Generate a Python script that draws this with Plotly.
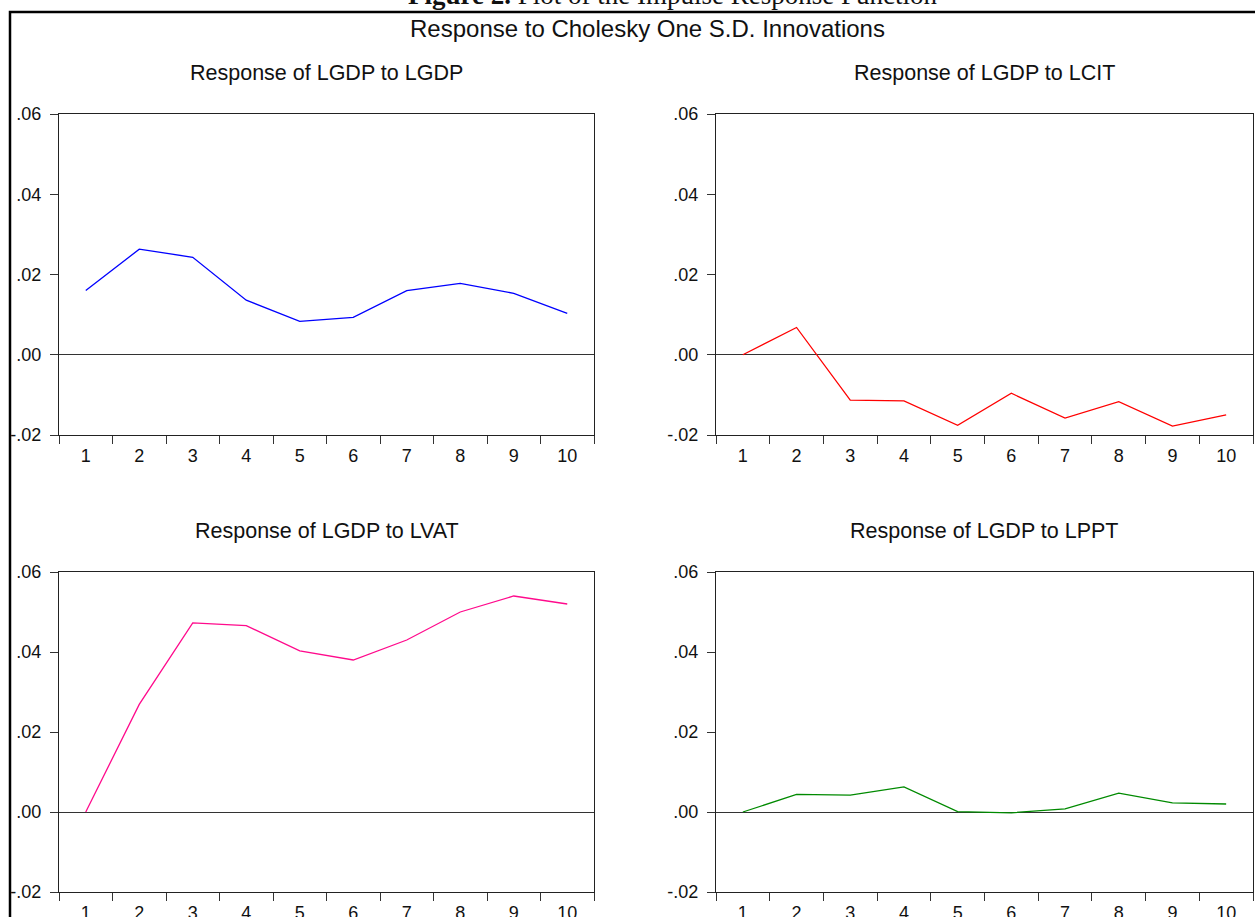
import plotly.graph_objects as go

periods = ["1", "2", "3", "4", "5", "6", "7", "8", "9", "10"]
lgdp_to_lgdp = [0.0160, 0.0263, 0.0243, 0.0136, 0.0083, 0.0093, 0.0160, 0.0178, 0.0153, 0.0103]
lgdp_to_lcit = [0.0000, 0.0068, -0.0113, -0.0115, -0.0176, -0.0096, -0.0158, -0.0117, -0.0178, -0.0150]
lgdp_to_lvat = [0.0000, 0.0269, 0.0473, 0.0466, 0.0403, 0.0380, 0.0430, 0.0500, 0.0540, 0.0520]
lgdp_to_lppt = [0.0000, 0.0044, 0.0042, 0.0063, 0.0001, -0.0002, 0.0008, 0.0047, 0.0023, 0.0020]

panel_titles = ["Response of LGDP to LGDP", "Response of LGDP to LCIT",
                "Response of LGDP to LVAT", "Response of LGDP to LPPT"]
series = [lgdp_to_lgdp, lgdp_to_lcit, lgdp_to_lvat, lgdp_to_lppt]
colors = ["#0000ff", "#ff0000", "#ff0a8c", "#008a00"]

ytick_vals = [-0.02, 0.00, 0.02, 0.04, 0.06]
ytick_text = ["-.02", ".00", ".02", ".04", ".06"]

W, H = 1255, 917
fig_title = "<b>Figure 2.</b> Plot of the Impulse Response Function"
main_title = "Response to Cholesky One S.D. Innovations"

# panel pixel boxes (left, right, top, bottom)
boxes = [(59, 594, 114, 435), (716, 1253, 114, 435),
         (59, 594, 572, 892), (716, 1253, 572, 892)]

def px(x):
    return x / W

def py(y):
    return 1 - y / H

fig = go.Figure()
font_family = "Liberation Sans, Arial, sans-serif"

for i, (vals, col, box) in enumerate(zip(series, colors, boxes)):
    n = i + 1
    xa = "x" if n == 1 else f"x{n}"
    ya = "y" if n == 1 else f"y{n}"
    fig.add_trace(go.Scatter(x=periods, y=vals, mode="lines",
                             line=dict(color=col, width=1.3),
                             xaxis=xa, yaxis=ya, showlegend=False))
    l, r, t, b = box
    xkey = "xaxis" if n == 1 else f"xaxis{n}"
    ykey = "yaxis" if n == 1 else f"yaxis{n}"
    fig.layout[xkey] = dict(
        domain=[px(l), px(r)], anchor=ya, type="category",
        categoryorder="array", categoryarray=periods,
        range=[-0.5, 9.5], tickson="boundaries", ticks="outside",
        ticklen=8, tickwidth=1, tickcolor="#333", showgrid=False,
        ticklabelstandoff=4,
        showline=True, linecolor="#222", linewidth=1.3, mirror=True,
        tickfont=dict(family=font_family, size=18, color="#111"),
        zeroline=False, fixedrange=True, automargin=False)
    fig.layout[ykey] = dict(
        domain=[py(b), py(t)], anchor=xa, range=[-0.02, 0.06],
        tickvals=ytick_vals, ticktext=ytick_text, ticks="outside",
        ticklen=8, tickwidth=1, tickcolor="#333", showgrid=False,
        ticklabelstandoff=5,
        showline=True, linecolor="#222", linewidth=1.3, mirror=True,
        zeroline=True, zerolinecolor="#333", zerolinewidth=1,
        tickfont=dict(family=font_family, size=18, color="#111"),
        fixedrange=True, automargin=False)
    fig.add_annotation(text=panel_titles[i], x=px((l + r) / 2), y=py(t - 41),
                       xref="paper", yref="paper", showarrow=False,
                       xanchor="center", yanchor="middle",
                       font=dict(family=font_family, size=21.5, color="#111"))

fig.add_annotation(text=main_title, x=px(647), y=py(28), xref="paper", yref="paper",
                   showarrow=False, xanchor="center", yanchor="middle",
                   font=dict(family=font_family, size=24, color="#111"))
fig.add_annotation(text=fig_title, x=px(672), y=py(-5), xref="paper", yref="paper",
                   showarrow=False, xanchor="center", yanchor="middle",
                   font=dict(family="Liberation Serif, serif", size=27, color="#111"))

fig.add_shape(type="rect", xref="paper", yref="paper",
              x0=px(10), x1=px(1262), y0=py(930), y1=py(12),
              line=dict(color="black", width=2.5), fillcolor="rgba(0,0,0,0)")

fig.update_layout(width=W, height=H, autosize=False,
                  margin=dict(l=0, r=0, t=0, b=0, autoexpand=False),
                  paper_bgcolor="white", plot_bgcolor="white")

fig.write_html("out.html", config={"displayModeBar": False},
               post_script="document.body.style.margin='0';document.body.style.overflow='hidden';")
